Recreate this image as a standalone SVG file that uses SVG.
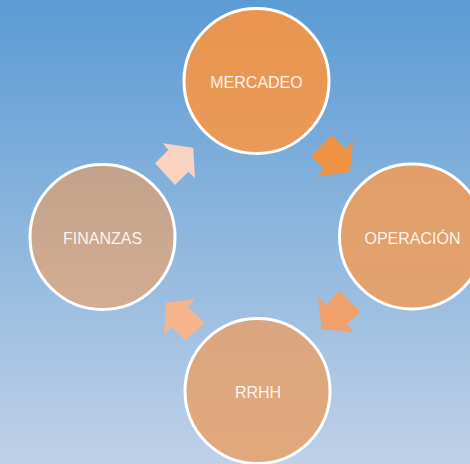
<svg xmlns="http://www.w3.org/2000/svg" width="470" height="464" viewBox="0 0 470 464">
<defs>
<linearGradient id="bg" x1="0" y1="0" x2="0" y2="1">
<stop offset="0" stop-color="#5B9BD4"/>
<stop offset="1" stop-color="#BFD1E7"/>
</linearGradient>
<linearGradient id="gM" x1="0" y1="0" x2="0" y2="1"><stop offset="0" stop-color="#E99550"/><stop offset="1" stop-color="#E99A58"/></linearGradient>
<linearGradient id="gO" x1="0" y1="0" x2="0" y2="1"><stop offset="0" stop-color="#E29E68"/><stop offset="1" stop-color="#E1A270"/></linearGradient>
<linearGradient id="gR" x1="0" y1="0" x2="0" y2="1"><stop offset="0" stop-color="#DAA680"/><stop offset="1" stop-color="#E2A87C"/></linearGradient>
<linearGradient id="gF" x1="0" y1="0" x2="0" y2="1"><stop offset="0" stop-color="#C2A28A"/><stop offset="1" stop-color="#D2AD94"/></linearGradient>
</defs>
<style>
.c{stroke:#FFFFFF;stroke-width:3}
.t{font-family:"Liberation Sans",Arial,sans-serif;font-size:16px;fill:#FBF3EC;text-anchor:middle}
</style>
<rect x="0" y="0" width="470" height="464" fill="url(#bg)"/>
<g id="connectors">
<polygon points="311,156 331.7,135 345,149 352.7,141.7 350,171.7 317.3,176.7 324,168.3" fill="#EE9343"/>
<polygon points="318.3,297.7 326,305 339.3,291 360,311.7 346.7,324.3 353.3,331.7 321.7,329.3" fill="#F0A06A"/>
<polygon points="162.7,143.3 168.3,150 155,163.3 175,185 188.3,171.7 195,178.3 193.3,147.7" fill="#F9D2C2"/>
<polygon points="166,302.7 195,299.3 188.3,306.7 205,323.3 185,340 171.7,326.7 164,335" fill="#F5B48C"/>
</g>
<g id="mercadeo">
<circle class="c" cx="256.5" cy="81" r="72.5" fill="url(#gM)"/>
<text class="t" x="256.5" y="88">MERCADEO</text>
</g>
<g id="operacion">
<circle class="c" cx="412" cy="236.5" r="72.5" fill="url(#gO)"/>
<text class="t" x="412.5" y="244">OPERACIÓN</text>
</g>
<g id="rrhh">
<circle class="c" cx="257.5" cy="391" r="72.5" fill="url(#gR)"/>
<text class="t" x="258" y="398">RRHH</text>
</g>
<g id="finanzas">
<circle class="c" cx="102.5" cy="237" r="72.5" fill="url(#gF)"/>
<text class="t" x="102.5" y="244">FINANZAS</text>
</g>
</svg>
